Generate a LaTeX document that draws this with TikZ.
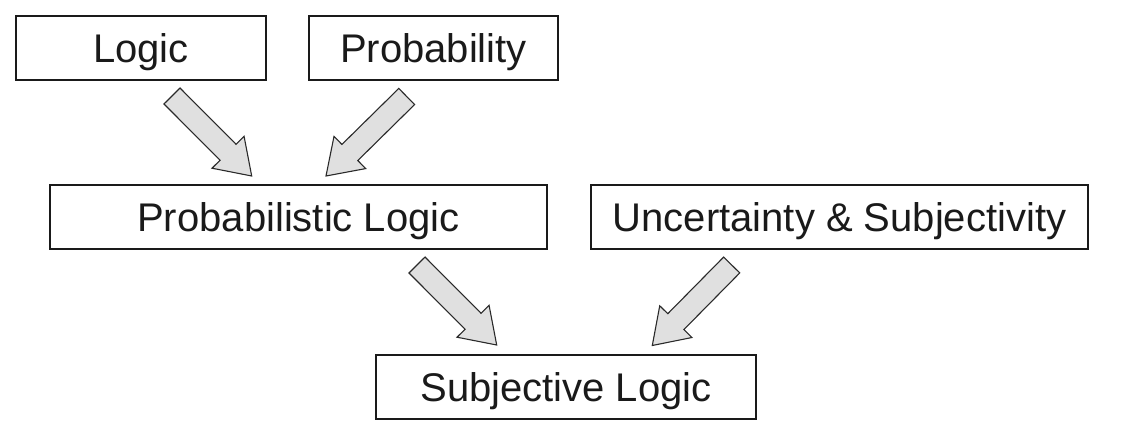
\documentclass[tikz,border=0pt]{standalone}
\usepackage{fontspec}
\setmainfont{Liberation Sans}
\usetikzlibrary{calc}
\definecolor{inkc}{HTML}{1A1A1A}
\definecolor{arrfill}{HTML}{E0E0E0}
\definecolor{arrline}{HTML}{2A2A2A}
\tikzset{
  box/.style={draw=inkc, line width=2.6pt, rectangle, inner sep=0pt, outer sep=0pt,
    minimum height=64pt, text height=29pt, text depth=0pt, text=inkc,
    font=\fontsize{40}{48}\selectfont},
  blockarrow/.style={draw=arrline, fill=arrfill, line width=1.1pt, line join=miter},
}
\newcommand\blockarr[2]{%
  \path ($(#2)!33.5pt!(#1)$) coordinate (neck);
  \draw[blockarrow] ($(#1)!11.3pt!90:(#2)$) -- ($(neck)!11.3pt!90:(#2)$)
    -- ($(neck)!22.6pt!90:(#2)$) -- (#2) -- ($(neck)!22.6pt!-90:(#2)$)
    -- ($(neck)!11.3pt!-90:(#2)$) -- ($(#1)!11.3pt!-90:(#2)$) -- cycle;}
\begin{document}
\begin{tikzpicture}[x=1pt,y=-1pt]
\useasboundingbox (0,0) rectangle (1136,435);
\node[box, minimum width=250pt] (logic) at (141,48) {Logic};
\node[box, minimum width=249pt] (prob) at (433.5,48) {Probability};
\node[box, minimum width=497pt] (plogic) at (298.5,217) {Probabilistic Logic};
\node[box, minimum width=497pt] (unc) at (839.5,217) {Uncertainty \& Subjectivity};
\node[box, minimum width=380pt] (slogic) at (566,387) {Subjective Logic};
% arrow ends
\coordinate (a1s) at (172,96);   \coordinate (a1e) at (251.7,176);
\coordinate (a2s) at (406.7,96.5); \coordinate (a2e) at (326,176);
\coordinate (a3s) at (417,265);  \coordinate (a3e) at (496.7,345);
\coordinate (a4s) at (731.7,265); \coordinate (a4e) at (652.3,345.5);
\blockarr{a1s}{a1e}
\blockarr{a2s}{a2e}
\blockarr{a3s}{a3e}
\blockarr{a4s}{a4e}
\end{tikzpicture}
\end{document}
